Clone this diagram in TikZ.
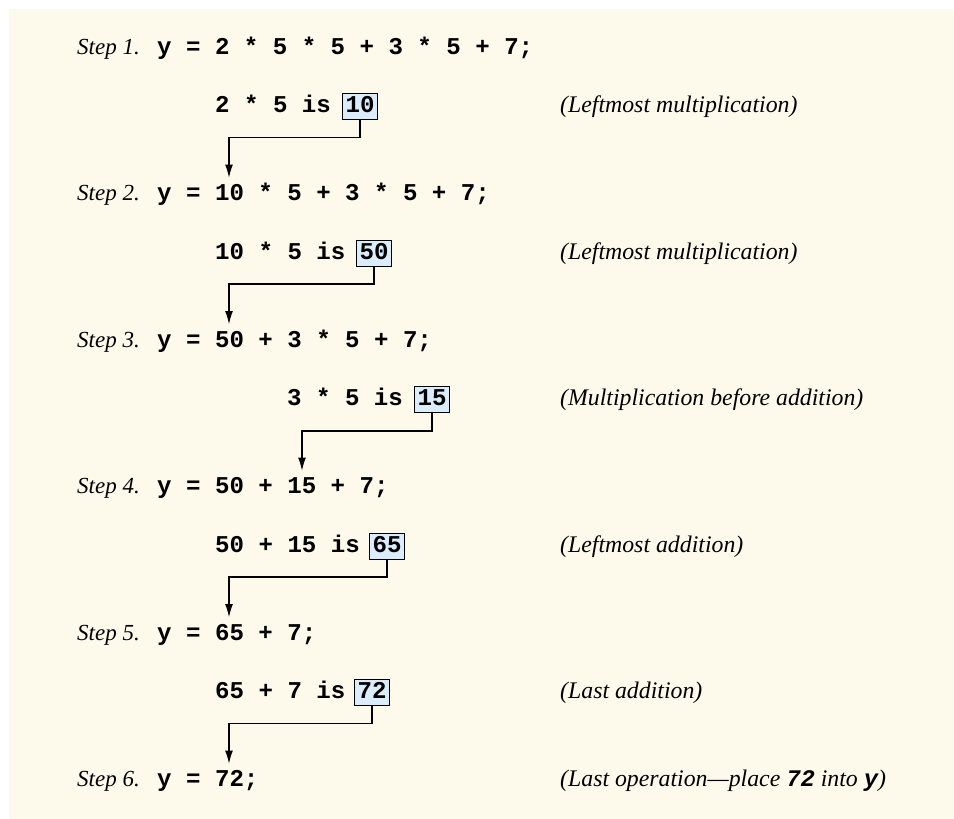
\documentclass[tikz,border=0pt]{standalone}
\usepackage{fontspec}
\setmainfont{Liberation Serif}
\newfontfamily\cf{Liberation Mono}
\usetikzlibrary{arrows.meta}
\definecolor{cream}{RGB}{253,250,236}
\definecolor{boxblue}{RGB}{219,237,252}
\newcommand{\cd}[1]{{\cf\bfseries #1}}
\tikzset{
  lbl/.style={anchor=base west, inner sep=0pt, font=\fontsize{23}{28}\selectfont\itshape},
  code/.style={anchor=base west, inner sep=0pt, font=\fontsize{24.1}{29}\selectfont\cf\bfseries},
  cmt/.style={anchor=base west, inner sep=0pt, font=\fontsize{23.8}{28}\selectfont\itshape},
  res/.style={anchor=base, draw=black, line width=1pt, fill=boxblue, inner sep=0pt,
    minimum width=35pt, text height=19pt, text depth=7pt,
    font=\fontsize{24.1}{29}\selectfont\cf\bfseries},
  conn/.style={draw=black, line width=1.1pt, -{Latex[length=13pt,width=8pt]}}
}
\begin{document}
\begin{tikzpicture}[x=1pt,y=1pt]
\useasboundingbox (0,0) rectangle (954,-819);
\fill[cream] (9,-9) rectangle (954,-819);
% step lines
\node[lbl] (l1) at (77,-54) {Step 1.};
\node[code] (c1) at (157,-54) {y = 2 * 5 * 5 + 3 * 5 + 7;};
\node[lbl] (l2) at (77,-200.5) {Step 2.};
\node[code] (c2) at (157,-200.5) {y = 10 * 5 + 3 * 5 + 7;};
\node[lbl] (l3) at (77,-347) {Step 3.};
\node[code] (c3) at (157,-347) {y = 50 + 3 * 5 + 7;};
\node[lbl] (l4) at (77,-493.5) {Step 4.};
\node[code] (c4) at (157,-493.5) {y = 50 + 15 + 7;};
\node[lbl] (l5) at (77,-640) {Step 5.};
\node[code] (c5) at (157,-640) {y = 65 + 7;};
\node[lbl] (l6) at (77,-786.5) {Step 6.};
\node[code] (c6) at (157,-786.5) {y = 72;};
% sub lines
\node[code] (s1) at (215,-112.5) {2 * 5 is};
\node[res] (b1) at (360,-112.5) {10};
\node[code] (s2) at (215,-259) {10 * 5 is};
\node[res] (b2) at (374,-259) {50};
\node[code] (s3) at (287,-405.5) {3 * 5 is};
\node[res] (b3) at (432,-405.5) {15};
\node[code] (s4) at (215,-552) {50 + 15 is};
\node[res] (b4) at (387,-552) {65};
\node[code] (s5) at (215,-698.5) {65 + 7 is};
\node[res] (b5) at (372,-698.5) {72};
% comments
\node[cmt] (m1) at (560,-112.5) {(Leftmost multiplication)};
\node[cmt] (m2) at (560,-259) {(Leftmost multiplication)};
\node[cmt] (m3) at (560,-405.5) {(Multiplication before addition)};
\node[cmt] (m4) at (560,-552) {(Leftmost addition)};
\node[cmt] (m5) at (560,-698.5) {(Last addition)};
\node[cmt] (m6) at (560,-786.5) {(Last operation---place \cd{72} into \cd{y})};
% targets and bends
\coordinate (t2) at (229,-177.5);
\coordinate (t3) at (229,-324);
\coordinate (t4) at (302,-470.5);
\coordinate (t5) at (229,-617);
\coordinate (t6) at (229,-763.5);
\coordinate (h1) at (0,-137.5);
\coordinate (h2) at (0,-284);
\coordinate (h3) at (0,-431);
\coordinate (h4) at (0,-577);
\coordinate (h5) at (0,-723.5);
% connectors
\draw[conn] (b1.south) -- (b1.south |- h1) -| (t2);
\draw[conn] (b2.south) -- (b2.south |- h2) -| (t3);
\draw[conn] (b3.south) -- (b3.south |- h3) -| (t4);
\draw[conn] (b4.south) -- (b4.south |- h4) -| (t5);
\draw[conn] (b5.south) -- (b5.south |- h5) -| (t6);
\end{tikzpicture}
\end{document}
